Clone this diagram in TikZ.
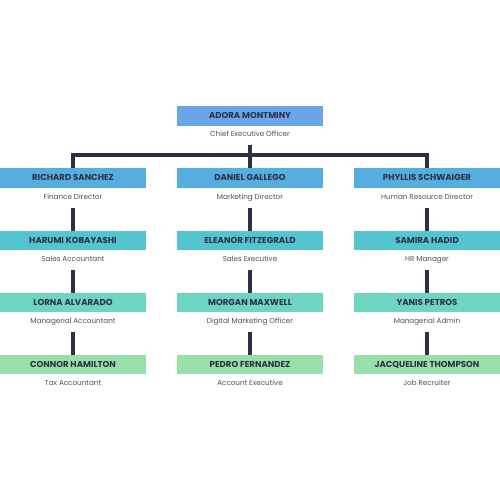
\documentclass[tikz,border=0pt]{standalone}
\usepackage{fontspec}
\setmainfont{Poppins}
\definecolor{cceo}{HTML}{6AA5EA}
\definecolor{crA}{HTML}{56AEE0}
\definecolor{crB}{HTML}{54C5D0}
\definecolor{crC}{HTML}{6DD5C1}
\definecolor{crD}{HTML}{98DFA9}
\definecolor{ink}{HTML}{2E2F48}
\definecolor{sub}{HTML}{505058}
\tikzset{
  namebox/.style={minimum width=146pt, minimum height=19.5pt, inner sep=0pt,
    text height=6pt, text depth=1pt,
    font=\fontsize{8.6}{9}\selectfont\bfseries, text=ink},
  subtxt/.style={minimum height=20pt, inner sep=0pt, text=sub,
    text height=5pt, text depth=1.5pt,
    font=\fontsize{7.2}{8}\selectfont},
  link/.style={draw=ink, line width=4pt}
}
\begin{document}
\begin{tikzpicture}[x=1pt,y=-1pt]
\useasboundingbox[fill=white] (0,0) rectangle (500,500);
% CEO
\node[namebox, fill=cceo] (ceo) at (250,116) {ADORA MONTMINY};
\node[subtxt] (ceos) at (250,135) {Chief Executive Officer};
% row 1
\node[namebox, fill=crA] (a1) at (73,178) {RICHARD SANCHEZ};
\node[namebox, fill=crA] (b1) at (250,178) {DANIEL GALLEGO};
\node[namebox, fill=crA] (c1) at (427,178) {PHYLLIS SCHWAIGER};
\node[subtxt] (a1s) at (73,197.5) {Finance Director};
\node[subtxt] (b1s) at (250,197.5) {Marketing Director};
\node[subtxt] (c1s) at (427,197.5) {Human Resource Director};
% row 2
\node[namebox, fill=crB] (a2) at (73,240.5) {HARUMI KOBAYASHI};
\node[namebox, fill=crB] (b2) at (250,240.5) {ELEANOR FITZEGRALD};
\node[namebox, fill=crB] (c2) at (427,240.5) {SAMIRA HADID};
\node[subtxt] (a2s) at (73,260) {Sales Accountant};
\node[subtxt] (b2s) at (250,260) {Sales Executive};
\node[subtxt] (c2s) at (427,260) {HR Manager};
% row 3
\node[namebox, fill=crC] (a3) at (73,302.5) {LORNA ALVARADO};
\node[namebox, fill=crC] (b3) at (250,302.5) {MORGAN MAXWELL};
\node[namebox, fill=crC] (c3) at (427,302.5) {YANIS PETROS};
\node[subtxt] (a3s) at (73,322) {Managerial Accountant};
\node[subtxt] (b3s) at (250,322) {Digital Marketing Officer};
\node[subtxt] (c3s) at (427,322) {Managerial Admin};
% row 4
\node[namebox, fill=crD] (a4) at (73,364.5) {CONNOR HAMILTON};
\node[namebox, fill=crD] (b4) at (250,364.5) {PEDRO FERNANDEZ};
\node[namebox, fill=crD] (c4) at (427,364.5) {JACQUELINE THOMPSON};
\node[subtxt] (a4s) at (73,384) {Tax Accountant};
\node[subtxt] (b4s) at (250,384) {Account Executive};
\node[subtxt] (c4s) at (427,384) {Job Recruiter};
% connectors
\coordinate (bus) at (250,155);
\draw[link] (ceos.south) -- (b1.north);
\draw[link] (a1.north) |- (bus) -| (c1.north);
\foreach \c in {a,b,c}{
  \draw[link] (\c1s.south) -- (\c2.north);
  \draw[link] (\c2s.south) -- (\c3.north);
  \draw[link] (\c3s.south) -- (\c4.north);
}
\end{tikzpicture}
\end{document}
